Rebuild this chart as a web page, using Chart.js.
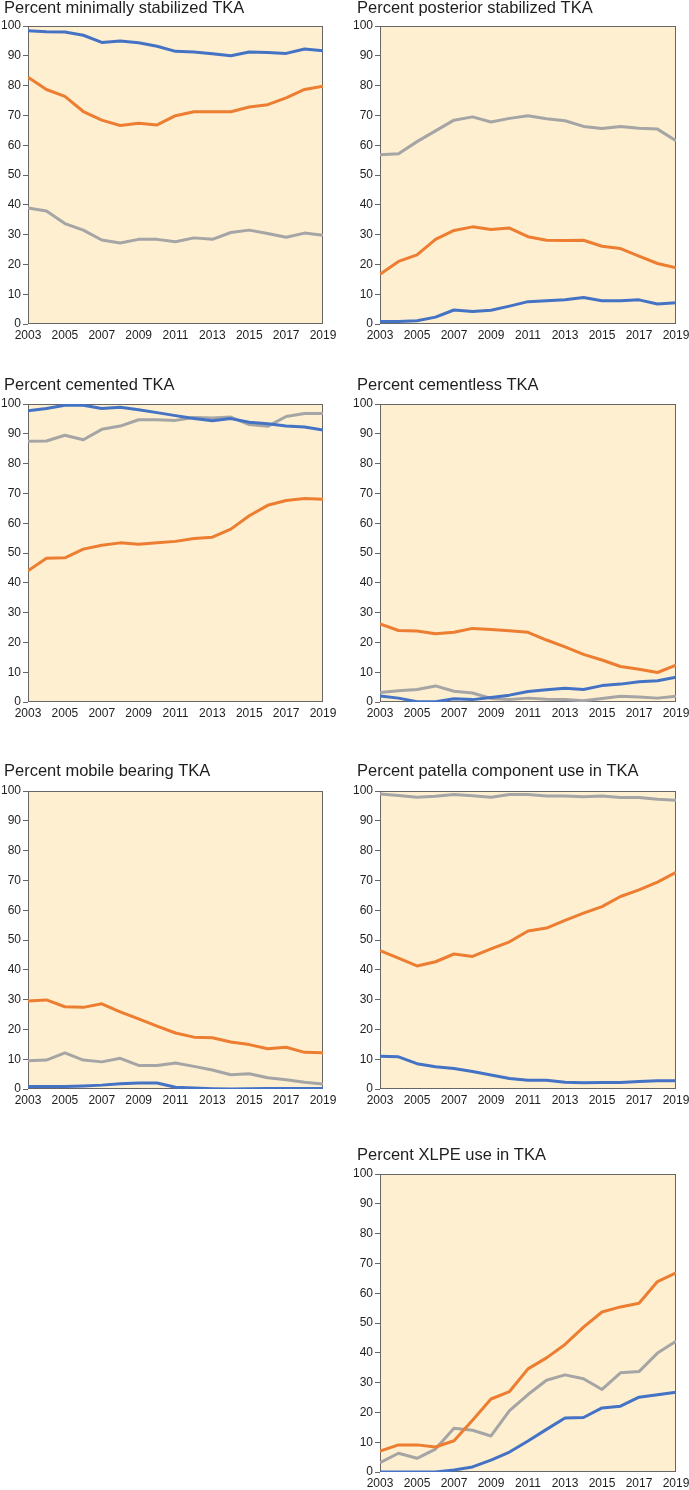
<!DOCTYPE html>
<html>
<head>
<meta charset="utf-8">
<script src="https://cdn.jsdelivr.net/npm/chart.js@4.4.1/dist/chart.umd.min.js"></script>
<style>
  body { margin: 0; background: #fff; }
  #page { position: relative; width: 689px; height: 1490px; overflow: hidden; }
  #page canvas { position: absolute; }
</style>
</head>
<body>
<div id="page"></div>
<script>
// years on the x axis, ticks shown every other year
const years = [2003, 2004, 2005, 2006, 2007, 2008, 2009, 2010, 2011, 2012, 2013, 2014, 2015, 2016, 2017, 2018, 2019];
const xTickYears = [2003, 2005, 2007, 2009, 2011, 2013, 2015, 2017, 2019];
const yTickValues = [0, 10, 20, 30, 40, 50, 60, 70, 80, 90, 100];

const titles = [
  "Percent minimally stabilized TKA",
  "Percent posterior stabilized TKA",
  "Percent cemented TKA",
  "Percent cementless TKA",
  "Percent mobile bearing TKA",
  "Percent patella component use in TKA",
  "Percent XLPE use in TKA"
];

// minimally stabilized
const minStabBlue   = [98.4, 98.1, 98.0, 96.9, 94.5, 95.0, 94.4, 93.2, 91.5, 91.3, 90.7, 90.0, 91.3, 91.1, 90.8, 92.3, 91.7];
const minStabOrange = [82.8, 78.7, 76.4, 71.3, 68.4, 66.6, 67.4, 66.8, 69.9, 71.2, 71.2, 71.2, 72.8, 73.6, 75.9, 78.7, 79.8];
const minStabGray   = [38.9, 37.9, 33.7, 31.5, 28.2, 27.2, 28.4, 28.4, 27.6, 28.9, 28.4, 30.7, 31.5, 30.4, 29.1, 30.5, 29.8];

// posterior stabilized
const postStabBlue   = [0.8, 0.8, 1.1, 2.3, 4.7, 4.2, 4.6, 6.0, 7.5, 7.8, 8.1, 8.9, 7.8, 7.8, 8.1, 6.7, 7.1];
const postStabOrange = [16.7, 21.0, 23.2, 28.4, 31.4, 32.6, 31.7, 32.2, 29.3, 28.1, 28.0, 28.1, 26.1, 25.3, 22.8, 20.3, 18.9];
const postStabGray   = [56.8, 57.1, 61.2, 64.8, 68.4, 69.5, 67.8, 69.0, 69.9, 68.9, 68.2, 66.3, 65.6, 66.3, 65.7, 65.4, 61.5];

// cemented
const cementedBlue   = [97.7, 98.5, 99.6, 99.6, 98.5, 98.9, 98.1, 97.1, 96.1, 95.1, 94.4, 95.1, 93.9, 93.4, 92.6, 92.3, 91.3];
const cementedOrange = [44.0, 48.2, 48.4, 51.3, 52.6, 53.4, 52.9, 53.4, 53.9, 54.9, 55.3, 58.0, 62.5, 66.0, 67.6, 68.3, 68.0];
const cementedGray   = [87.5, 87.6, 89.5, 88.0, 91.5, 92.6, 94.7, 94.7, 94.5, 95.5, 95.3, 95.6, 93.1, 92.5, 95.8, 96.8, 96.8];

// cementless
const cementlessBlue   = [2.0, 1.3, 0.1, 0.1, 1.1, 0.8, 1.5, 2.3, 3.5, 4.1, 4.6, 4.2, 5.5, 6.0, 6.8, 7.1, 8.3];
const cementlessOrange = [26.2, 24.0, 23.8, 22.9, 23.4, 24.7, 24.3, 23.9, 23.4, 20.8, 18.5, 16.0, 14.1, 11.9, 11.0, 9.9, 12.4];
const cementlessGray   = [3.2, 3.8, 4.2, 5.4, 3.6, 3.0, 1.2, 0.8, 1.3, 0.9, 0.8, 0.4, 1.2, 1.9, 1.7, 1.3, 1.9];

// mobile bearing
const mobileBlue   = [0.8, 0.8, 0.8, 1.0, 1.3, 1.8, 2.0, 2.0, 0.6, 0.3, 0.1, 0.0, 0.1, 0.2, 0.2, 0.2, 0.2];
const mobileOrange = [29.5, 29.9, 27.6, 27.4, 28.6, 25.9, 23.5, 21.1, 18.8, 17.4, 17.2, 15.8, 14.9, 13.5, 14.0, 12.3, 12.2];
const mobileGray   = [9.5, 9.7, 12.1, 9.7, 9.1, 10.3, 7.9, 7.9, 8.7, 7.6, 6.4, 4.8, 5.1, 3.8, 3.1, 2.3, 1.7];

// patella component
const patellaBlue   = [11.0, 10.8, 8.5, 7.5, 6.9, 5.9, 4.7, 3.5, 2.9, 2.9, 2.3, 2.1, 2.2, 2.2, 2.5, 2.8, 2.8];
const patellaOrange = [46.4, 43.9, 41.3, 42.7, 45.3, 44.5, 47.0, 49.4, 53.0, 54.0, 56.6, 59.0, 61.2, 64.6, 66.8, 69.4, 72.7];
const patellaGray   = [99.0, 98.5, 97.9, 98.2, 98.8, 98.4, 97.9, 98.8, 98.8, 98.3, 98.3, 98.1, 98.3, 97.8, 97.8, 97.2, 96.9];

// XLPE
const xlpeBlue   = [0, 0, 0, 0, 0.7, 1.7, 4.0, 6.7, 10.4, 14.3, 18.1, 18.3, 21.5, 22.1, 25.1, 25.9, 26.8];
const xlpeOrange = [7.0, 9.1, 9.1, 8.4, 10.5, 17.4, 24.5, 27.0, 34.6, 38.3, 42.8, 48.6, 53.7, 55.4, 56.6, 63.9, 66.8];
const xlpeGray   = [3.1, 6.3, 4.6, 7.7, 14.7, 14.0, 12.1, 20.6, 26.0, 30.8, 32.6, 31.3, 27.7, 33.3, 33.7, 39.9, 43.9];

const BLUE = "#4472c4";
const ORANGE = "#ed7d31";
const GRAY = "#a5a5a5";
const FONT = "'Liberation Sans', Arial, Helvetica, sans-serif";

// panel placement on the page
const COL = [
  { canvasLeft: 0, width: 340, padLeft: 4, yWidth: 24, padRight: 17 },
  { canvasLeft: 345, width: 344, padLeft: 12, yWidth: 23, padRight: 13 }
];
const ROW = [
  { canvasTop: 0, titleGap: 9 },
  { canvasTop: 377, titleGap: 10 },
  { canvasTop: 763, titleGap: 11 },
  { canvasTop: 1147, titleGap: 10 }
];
const PLOT_H = 298;
const X_AXIS_H = 24;
const TITLE_SIZE = 16.5;
const TITLE_H = 17;

const panels = [
  { col: 0, row: 0, series: [minStabBlue, minStabOrange, minStabGray] },
  { col: 1, row: 0, series: [postStabBlue, postStabOrange, postStabGray] },
  { col: 0, row: 1, series: [cementedBlue, cementedOrange, cementedGray] },
  { col: 1, row: 1, series: [cementlessBlue, cementlessOrange, cementlessGray] },
  { col: 0, row: 2, series: [mobileBlue, mobileOrange, mobileGray] },
  { col: 1, row: 2, series: [patellaBlue, patellaOrange, patellaGray] },
  { col: 1, row: 3, series: [xlpeBlue, xlpeOrange, xlpeGray] }
];

// beige plot background with a thin dark frame
const plotFrame = {
  id: "plotFrame",
  afterLayout(chart) {
    // let the y labels run into the left padding instead of being clipped
    chart.scales.y.left = 0;
  },
  beforeDatasetsDraw(chart) {
    const { ctx, chartArea: a } = chart;
    ctx.save();
    ctx.fillStyle = "#fdefd0";
    ctx.fillRect(a.left, a.top, a.width, a.height);
    ctx.strokeStyle = "#666";
    ctx.lineWidth = 1;
    ctx.strokeRect(Math.round(a.left) + 0.5, Math.round(a.top) + 0.5,
                   Math.round(a.width) - 1, Math.round(a.height) - 1);
    ctx.restore();
  }
};

const page = document.getElementById("page");

panels.forEach((p, i) => {
  const col = COL[p.col];
  const row = ROW[p.row];
  const canvas = document.createElement("canvas");
  const h = TITLE_H + row.titleGap + PLOT_H + X_AXIS_H;
  canvas.width = col.width;
  canvas.height = h;
  canvas.style.left = col.canvasLeft + "px";
  canvas.style.top = row.canvasTop + "px";
  canvas.style.width = col.width + "px";
  canvas.style.height = h + "px";
  page.appendChild(canvas);

  const colors = [BLUE, ORANGE, GRAY];

  new Chart(canvas.getContext("2d"), {
    type: "line",
    data: {
      datasets: p.series.map((vals, k) => ({
        data: years.map((yr, j) => ({ x: yr, y: vals[j] })),
        borderColor: colors[k],
        borderWidth: 3,
        pointRadius: 0,
        tension: 0,
        borderJoinStyle: "round",
        fill: false
      }))
    },
    options: {
      responsive: false,
      animation: false,
      devicePixelRatio: 1,
      layout: { padding: { left: col.padLeft, right: col.padRight, top: 0, bottom: 0 } },
      plugins: {
        legend: { display: false },
        tooltip: { enabled: false },
        title: {
          display: true,
          text: titles[i],
          align: "start",
          color: "#1e1e1e",
          font: { family: FONT, size: TITLE_SIZE, weight: "normal", lineHeight: TITLE_H / TITLE_SIZE },
          padding: { top: 0, bottom: row.titleGap }
        }
      },
      scales: {
        x: {
          type: "linear",
          min: years[0],
          max: years[years.length - 1],
          afterBuildTicks: s => { s.ticks = xTickYears.map(v => ({ value: v })); },
          afterFit: s => { s.height = X_AXIS_H; s.paddingLeft = 0; s.paddingRight = 0; },
          grid: { display: false, drawTicks: false },
          border: { display: false },
          ticks: {
            color: "#1e1e1e",
            padding: 4,
            maxRotation: 0,
            autoSkip: false,
            font: { family: FONT, size: 12 },
            callback: v => String(v)
          }
        },
        y: {
          min: 0,
          max: 100,
          afterBuildTicks: s => { s.ticks = yTickValues.map(v => ({ value: v })); },
          afterFit: s => { s.width = col.yWidth; s.paddingTop = 0; s.paddingBottom = 0; },
          grid: { drawOnChartArea: false, drawTicks: true, tickLength: 5, color: "#666" },
          border: { display: false },
          ticks: {
            color: "#1e1e1e",
            padding: 2,
            font: { family: FONT, size: 12 },
            callback: v => String(v)
          }
        }
      }
    },
    plugins: [plotFrame]
  });
});
</script>
</body>
</html>
